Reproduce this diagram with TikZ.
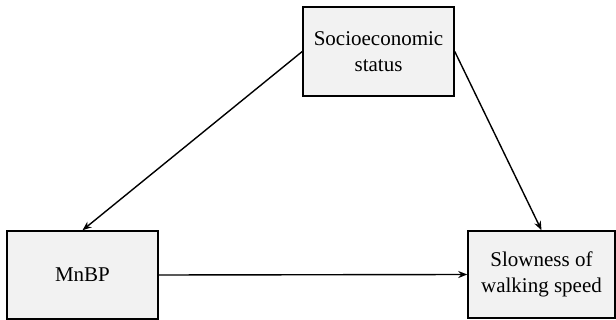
\documentclass[tikz,border=0pt]{standalone}
\usepackage{fontspec}
\setmainfont{Liberation Serif}
\usetikzlibrary{arrows.meta}
\tikzset{
	varbox/.style={draw=black, line width=1.5pt, fill=black!5, align=center, inner sep=0pt,
		font=\fontsize{21}{26}\selectfont},
	pathto/.style={line width=1.4pt, -{Stealth[length=9pt,width=7pt]}}
}

\begin{document}
\begin{tikzpicture}[x=1pt, y=1pt]
			%%%%% START %%%%%
			
			\useasboundingbox (0, 0) rectangle (616, -320);
			
			\node[varbox, minimum width=151, minimum height=89] (ses) at (378.5, -51.5) {Socioeconomic\\status};
			\node[varbox, minimum width=151, minimum height=88] (mnbp) at (82.5, -275) {MnBP};
			\node[varbox, minimum width=147, minimum height=87] (slow) at (541.5, -274.5) {Slowness of\\walking speed};
			
			\draw[pathto] (ses.west) -- (mnbp.north);
			\draw[pathto] (ses.east) -- (slow.north);
			\draw[pathto] (mnbp.east) -- (slow.west);
			
			%%%%% END %%%%%
		\end{tikzpicture}
\end{document}
